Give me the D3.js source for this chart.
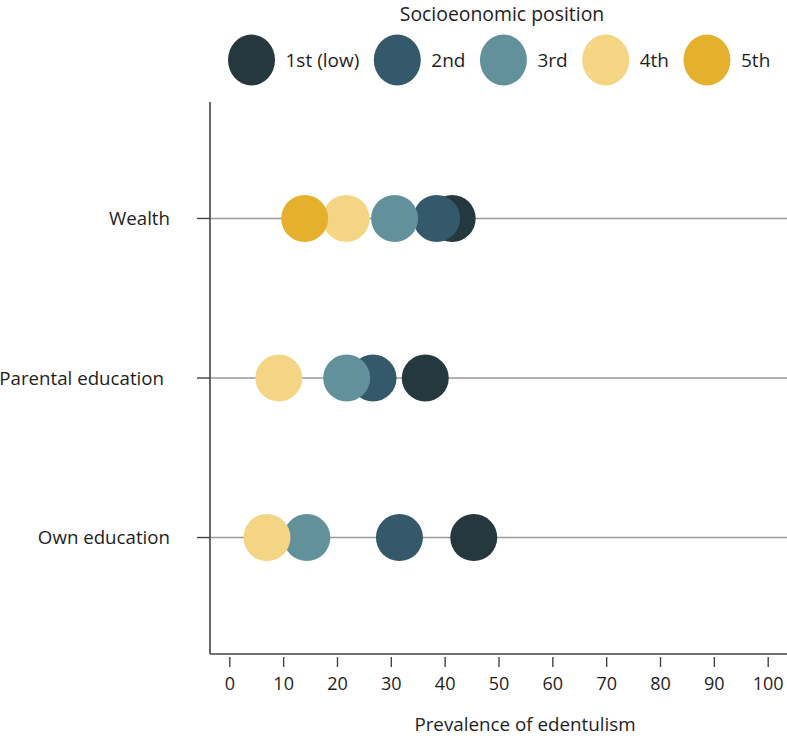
<!DOCTYPE html>
<html>
<head>
<meta charset="utf-8">
<script src="https://cdn.jsdelivr.net/npm/d3@7"></script>
<style>
  html, body { margin: 0; padding: 0; background: #fff; }
  svg { display: block; font-family: "Open Sans", Lato, sans-serif; }
</style>
</head>
<body>
<svg id="chart" width="787" height="736"></svg>
<script>
// ---- Data ----
const categories = ["Wealth", "Parental education", "Own education"];
const groups = ["1st (low)", "2nd", "3rd", "4th", "5th"];
const colors = ["#25383d", "#33596a", "#62909b", "#f4d584", "#e6b02f"];
// prevalence values per group, in category order (null = not shown)
const q1Values = [41.4, 36.4, 45.4];
const q2Values = [38.5, 26.7, 31.6];
const q3Values = [30.7, 21.8, 14.4];
const q4Values = [21.7, 9.2, 7.0];
const q5Values = [14.0, null, null];
const xTicks = [0, 10, 20, 30, 40, 50, 60, 70, 80, 90, 100];
const legendTitle = "Socioeonomic position";
const xTitle = "Prevalence of edentulism";

const seriesValues = [q1Values, q2Values, q3Values, q4Values, q5Values];

// ---- Layout ----
const svg = d3.select("#chart");
const axisX = 210, plotTop = 102, plotBottom = 654, plotRight = 787;
const r = 23.5;
const font = "'Open Sans', Lato, sans-serif";
const textColor = "#1e1e1e";

const x = d3.scaleLinear().domain([0, 100]).range([229.3, 767.7]);
const y = d3.scalePoint().domain(categories).range([plotTop, plotBottom]).padding(0.73);

// gridlines
svg.append("g").selectAll("line").data(categories).join("line")
  .attr("x1", axisX).attr("x2", plotRight)
  .attr("y1", d => y(d)).attr("y2", d => y(d))
  .attr("stroke", "#9a9a9a").attr("stroke-width", 1.4);

// left axis line + ticks
svg.append("line").attr("x1", axisX).attr("x2", axisX)
  .attr("y1", plotTop).attr("y2", plotBottom)
  .attr("stroke", "#444").attr("stroke-width", 1.6);
svg.append("g").selectAll("line").data(categories).join("line")
  .attr("x1", axisX - 13).attr("x2", axisX)
  .attr("y1", d => y(d)).attr("y2", d => y(d))
  .attr("stroke", "#444").attr("stroke-width", 1.4);
svg.append("g").selectAll("text").data(categories).join("text")
  .attr("x", (d) => d === "Parental education" ? 164 : 170)
  .attr("y", d => y(d))
  .attr("dy", "0.35em")
  .attr("text-anchor", "end")
  .attr("font-size", 18.7)
  .attr("fill", textColor)
  .text(d => d);

// bottom axis line
svg.append("line").attr("x1", axisX).attr("x2", plotRight)
  .attr("y1", plotBottom).attr("y2", plotBottom)
  .attr("stroke", "#444").attr("stroke-width", 1.6);

const xAxis = d3.axisBottom(x).tickValues(xTicks).tickSize(10).tickPadding(10);
const gx = svg.append("g").attr("transform", `translate(0,${plotBottom + 3})`).call(xAxis);
gx.select(".domain").remove();
gx.selectAll(".tick line").attr("stroke", "#444").attr("stroke-width", 1.4);
gx.selectAll(".tick text").attr("font-size", 18).attr("fill", textColor)
  .attr("font-family", font);

svg.append("text").attr("x", 525).attr("y", 731)
  .attr("text-anchor", "middle").attr("font-size", 18.8).attr("fill", textColor)
  .text(xTitle);

// points: draw 1st first so later groups overlay
seriesValues.forEach((vals, gi) => {
  const pts = categories.map((c, ci) => ({c, v: vals[ci]})).filter(p => p.v != null);
  svg.append("g").selectAll("circle").data(pts).join("circle")
    .attr("cx", d => x(d.v)).attr("cy", d => y(d.c))
    .attr("r", r).attr("fill", colors[gi]);
});

// legend
svg.append("text").attr("x", 502).attr("y", 21)
  .attr("text-anchor", "middle").attr("font-size", 19.4).attr("fill", textColor)
  .text(legendTitle);

const leg = svg.append("g");
let cursor = 228;
groups.forEach((g, i) => {
  const cx = cursor + r;
  leg.append("ellipse").attr("cx", cx).attr("cy", 60).attr("rx", r).attr("ry", 25.5)
    .attr("fill", colors[i]);
  const t = leg.append("text").attr("x", cx + 34).attr("y", 60).attr("dy", "0.35em")
    .attr("font-size", 19).attr("fill", textColor).text(g);
  const w = t.node().getComputedTextLength();
  cursor = cx + 34 + w + 14.5;
});
</script>
</body>
</html>
